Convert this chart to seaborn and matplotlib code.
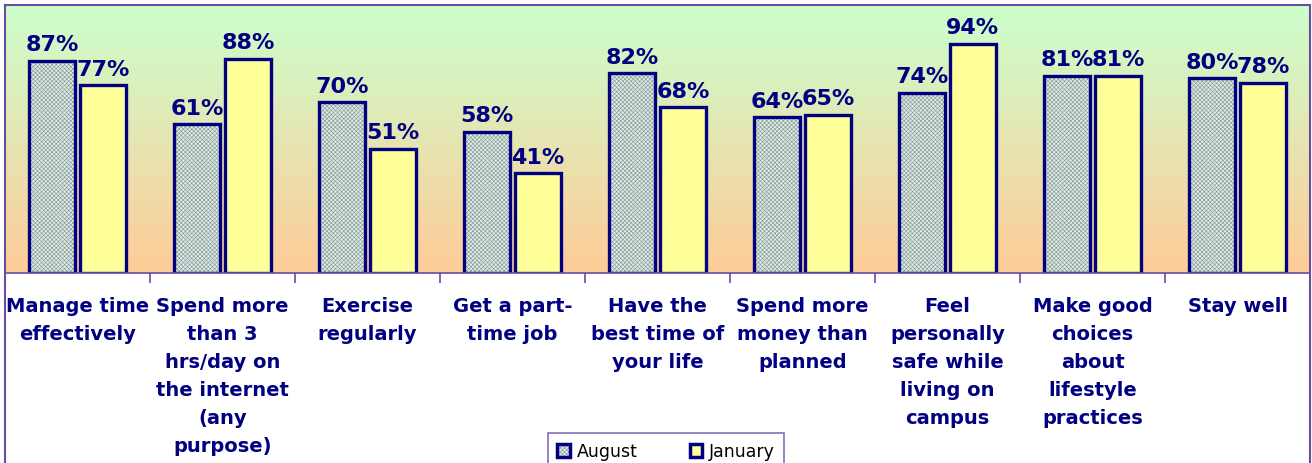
import numpy as np
import pandas as pd
import matplotlib.pyplot as plt
import matplotlib.colors as mcolors
from matplotlib.patches import Patch, Rectangle
import seaborn as sns

# data
items = ['Manage time\neffectively',
         'Spend more\nthan 3\nhrs/day on\nthe internet\n(any\npurpose)',
         'Exercise\nregularly',
         'Get a part-\ntime job',
         'Have the\nbest time of\nyour life',
         'Spend more\nmoney than\nplanned',
         'Feel\npersonally\nsafe while\nliving on\ncampus',
         'Make good\nchoices\nabout\nlifestyle\npractices',
         'Stay well']
august = [87, 61, 70, 58, 82, 64, 74, 81, 80]
january = [77, 88, 51, 41, 68, 65, 94, 81, 78]
periods = ['August', 'January']

df = pd.DataFrame({
    'item': items * 2,
    'pct': august + january,
    'period': ['August'] * len(items) + ['January'] * len(items),
})

navy = '#000080'
purple = '#6a4ca0'
aug_face = '#e0eae6'
aug_hatch = '#889c95'
jan_face = '#ffff99'

plt.rcParams['font.family'] = ['DejaVu Sans']
plt.rcParams['hatch.linewidth'] = 0.45

fig = plt.figure(figsize=(13.12, 4.63), dpi=100)
W, H = 1312, 463
ax = fig.add_axes([5 / W, 1 - 273 / H, 1305 / W, 268 / H])

# gradient backdrop of the plot area
grad = np.linspace(0, 1, 256).reshape(-1, 1)
cmap = mcolors.LinearSegmentedColormap.from_list('bg', ['#ccffcc', '#ffcc99'])
ax.imshow(grad, cmap=cmap, extent=[0, 1, 0, 1], transform=ax.transAxes,
          aspect='auto', zorder=0)

sns.barplot(data=df, x='item', y='pct', hue='period', hue_order=periods,
            palette={'August': aug_face, 'January': jan_face}, saturation=1,
            width=0.7, gap=0.1, edgecolor=navy, linewidth=2.4,
            legend=False, ax=ax, zorder=2)

# checker pattern on the August bars
for p in ax.containers[0]:
    p.set_hatch('xxxxxxxx')
    if hasattr(p, 'set_hatchcolor'):
        p.set_hatchcolor(aug_hatch)
    else:
        p._hatch_color = mcolors.to_rgba(aug_hatch)

for cont in ax.containers:
    ax.bar_label(cont, fmt='%g%%', padding=4, fontsize=16,
                 fontweight='bold', color=navy)

ax.set_xlim(-0.5, len(items) - 0.5)
ax.set_ylim(0, 110)
ax.set_xlabel('')
ax.set_ylabel('')
ax.set_yticks([])
ax.tick_params(axis='x', which='major', length=0, pad=17,
               labelsize=14, labelcolor=navy)
for lab in ax.get_xticklabels():
    lab.set_fontweight('bold')
    lab.set_linespacing(1.6)
    lab.set_verticalalignment('top')
ax.set_xticks(np.arange(0.5, len(items) - 1, 1), minor=True)
ax.tick_params(axis='x', which='minor', length=7, width=1.2, color=purple,
               direction='out')

for side in ['top', 'left', 'right']:
    ax.spines[side].set_visible(False)
ax.spines['bottom'].set_color(purple)
ax.spines['bottom'].set_linewidth(1.2)

# outer chart frame
fig.patches.append(Rectangle((5 / W, -0.05), 1305 / W, 1 - 5 / H + 0.05,
                             transform=fig.transFigure, fill=False,
                             edgecolor=purple, linewidth=1.5, zorder=5))

handles = [Patch(facecolor=aug_face, edgecolor=navy, hatch='xxxxxxxx', linewidth=2.5),
           Patch(facecolor=jan_face, edgecolor=navy, linewidth=2.5)]
for h in handles:
    if hasattr(h, 'set_hatchcolor'):
        h.set_hatchcolor(aug_hatch)
    else:
        h._hatch_color = mcolors.to_rgba(aug_hatch)
leg = fig.legend(handles, periods, loc='upper center',
                 bbox_to_anchor=(666 / W, 1 - 433 / H), ncol=2,
                 fontsize=12.5, frameon=True, fancybox=False,
                 handlelength=0.7, handleheight=0.7, handletextpad=0.4,
                 columnspacing=3.0, borderpad=0.55, borderaxespad=0)
leg.get_frame().set_edgecolor(purple)
leg.get_frame().set_linewidth(1.2)

fig.savefig('out.png', dpi=100)
